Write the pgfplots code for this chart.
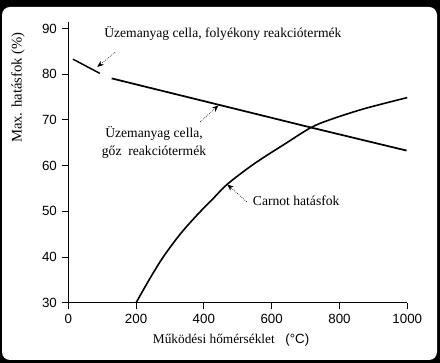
\documentclass[border=0pt]{standalone}
\usepackage{pgfplots}
\pgfplotsset{compat=1.18}
\usepackage{fontspec}
\setmainfont{Liberation Serif}
\setsansfont{Liberation Sans}
\usetikzlibrary{arrows.meta}
\begin{document}
\begin{tikzpicture}
\fill[black] (0,0) rectangle (330pt,272.25pt);
\fill[white, rounded corners=6pt] (1.5pt,2.25pt) rectangle (327.75pt,267pt);
\begin{axis}[
  at={(51.2pt,45.2pt)}, anchor=south west,
  scale only axis, width=254.25pt, height=210.75pt,
  xmin=0, xmax=1000, ymin=30, ymax=91.5,
  axis lines*=left,
  axis line style={line width=0.8pt},
  xtick={0,200,400,600,800,1000},
  ytick={30,40,50,60,70,80,90},
  tick align=outside,
  major tick length=5pt,
  tick style={line width=0.7pt, black},
  tick label style={font=\sffamily\fontsize{10}{12}\selectfont},
  /pgf/number format/assume math mode=true,
  /pgf/number format/1000 sep={},
  clip=false,
]
% liquid product fuel cell
\addplot[black, line width=1.1pt] coordinates {(14,83.3) (93,80.2)};
% steam product fuel cell
\addplot[black, line width=1.3pt] coordinates {(128,79.1) (500,72.3) (713,68.4) (998,63.3)};
% Carnot efficiency
\addplot[black, line width=1.2pt, smooth] coordinates {
 (200,30.0) (240,35.2) (280,40.0) (330,45.0) (380,49.2) (430,53.0) (470,56.0)
 (550,60.5) (640,64.8) (715,68.3) (770,70.0) (870,72.4) (1000,74.9)};
% annotations
\node[font=\fontsize{10.2}{12}\selectfont] at (axis cs:456,88.95) {Üzemanyag cella, folyékony reakciótermék};
\draw[densely dotted, line width=0.5pt, -{Stealth[length=5pt,width=4pt]}] (axis cs:138,84.8) -- (axis cs:85.5,81.6);
\node[font=\fontsize{10.2}{12}\selectfont] at (axis cs:253,67.1) {Üzemanyag cella,};
\node[font=\fontsize{10.2}{12}\selectfont] at (axis cs:253,63.0) {gőz\ \ reakciótermék};
\draw[densely dotted, line width=0.5pt, -{Stealth[length=5pt,width=4pt]}] (axis cs:389,69.6) -- (axis cs:443,73.2);
\node[anchor=west, inner sep=0pt, font=\fontsize{10.2}{12}\selectfont] at (axis cs:544,52.3) {Carnot hatásfok};
\draw[densely dotted, line width=0.5pt, -{Stealth[length=5pt,width=4pt]}] (axis cs:526,52.1) -- (axis cs:469,55.9);
\end{axis}
\node[rotate=90, font=\fontsize{11}{13}\selectfont] at (13.5pt,206.6pt) {Max. hatásfok (\%)};
\node[anchor=west, inner sep=0pt, font=\fontsize{10}{12}\selectfont] at (114.5pt,17.25pt) {Működési hőmérséklet\hspace{8pt}{\sffamily (°C)}};
\end{tikzpicture}
\end{document}
